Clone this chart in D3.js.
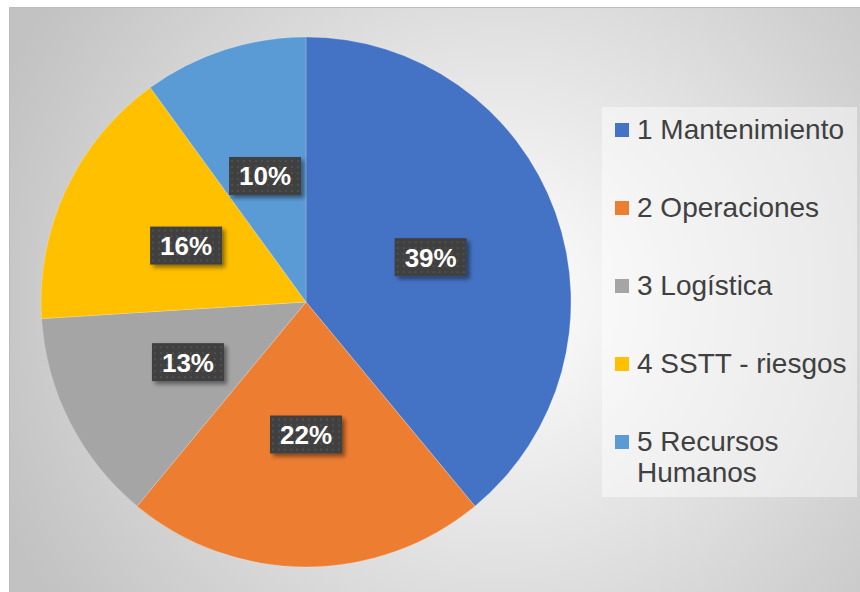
<!DOCTYPE html>
<html>
<head>
<meta charset="utf-8">
<script src="https://cdn.jsdelivr.net/npm/d3@7"></script>
<style>
  body { margin: 0; background: #fff; }
  svg { display: block; font-family: "Liberation Sans", Arial, sans-serif; }
</style>
</head>
<body>
<div class="graph"></div>
<script>
let categories = ["1 Mantenimiento", "2 Operaciones", "3 Logística", "4 SSTT - riesgos", "5 Recursos Humanos"];
let values = [39, 22, 13, 16, 10];
let colors = ["#4472C4", "#ED7D31", "#A5A5A5", "#FFC000", "#5B9BD5"];

let w = 860;
let h = 592;
let cx = 306, cy = 302, r = 265;

let svg = d3.select(".graph").append("svg").attr("width", w).attr("height", h);
let defs = svg.append("defs");

let bg = defs.append("radialGradient").attr("id", "bg")
  .attr("gradientUnits", "userSpaceOnUse")
  .attr("cx", 500).attr("cy", 300).attr("r", 540);
bg.append("stop").attr("offset", "0%").attr("stop-color", "#ffffff");
bg.append("stop").attr("offset", "100%").attr("stop-color", "#c2c2c2");

let pat = defs.append("pattern").attr("id", "dots")
  .attr("patternUnits", "userSpaceOnUse").attr("width", 6).attr("height", 6);
pat.append("rect").attr("width", 6).attr("height", 6).attr("fill", "#404040");
pat.append("circle").attr("cx", 3).attr("cy", 3).attr("r", 1).attr("fill", "#555555");

let sh = defs.append("filter").attr("id", "shadow")
  .attr("x", "-20%").attr("y", "-30%").attr("width", "150%").attr("height", "170%");
sh.append("feDropShadow").attr("dx", 3).attr("dy", 3).attr("stdDeviation", 2)
  .attr("flood-color", "#000").attr("flood-opacity", 0.45);

// chart area
svg.append("rect").attr("x", 9.5).attr("y", 7.5).attr("width", w + 10).attr("height", h + 10)
  .attr("fill", "url(#bg)").attr("stroke", "#bcbcbc").attr("stroke-width", 1);

let pie = d3.pie().sort(null).value(function (d) { return d; });
let arc = d3.arc().innerRadius(0).outerRadius(r);
let arcs = pie(values);

let g = svg.append("g").attr("transform", "translate(" + cx + "," + cy + ")");

g.selectAll("path")
  .data(arcs)
  .enter()
  .append("path")
  .attr("d", arc)
  .attr("fill", function (d, i) { return colors[i]; })
  .attr("stroke", "rgba(255,255,255,0.35)")
  .attr("stroke-width", 0.6);

let labels = g.selectAll("g.lbl")
  .data(arcs)
  .enter()
  .append("g")
  .attr("class", "lbl")
  .attr("transform", function (d) {
    let c = arc.centroid(d);
    return "translate(" + c[0] + "," + c[1] + ")";
  });

labels.append("rect")
  .attr("x", -36).attr("y", -19).attr("width", 72).attr("height", 38)
  .attr("fill", "url(#dots)")
  .attr("filter", "url(#shadow)");

labels.append("text")
  .attr("text-anchor", "middle")
  .attr("y", 9.5)
  .attr("fill", "#ffffff")
  .attr("font-weight", "bold")
  .attr("font-size", 26)
  .text(function (d) { return d.value + "%"; });

// legend
svg.append("rect").attr("x", 602).attr("y", 107).attr("width", 255).attr("height", 390)
  .attr("fill", "rgba(255,255,255,0.45)");

let legend = svg.selectAll("g.leg")
  .data(categories)
  .enter()
  .append("g")
  .attr("class", "leg")
  .attr("transform", function (d, i) { return "translate(615," + (139 + i * 78) + ")"; });

legend.append("rect")
  .attr("x", 0).attr("y", -16).attr("width", 14).attr("height", 14)
  .attr("fill", function (d, i) { return colors[i]; });

legend.append("text")
  .attr("x", 22)
  .attr("fill", "#404040")
  .attr("font-size", 28)
  .each(function (d) {
    let t = d3.select(this);
    let parts = d === "5 Recursos Humanos" ? ["5 Recursos", "Humanos"] : [d];
    parts.forEach(function (p, k) {
      t.append("tspan").attr("x", 22).attr("dy", k === 0 ? 0 : 31).text(p);
    });
  });
</script>
</body>
</html>
